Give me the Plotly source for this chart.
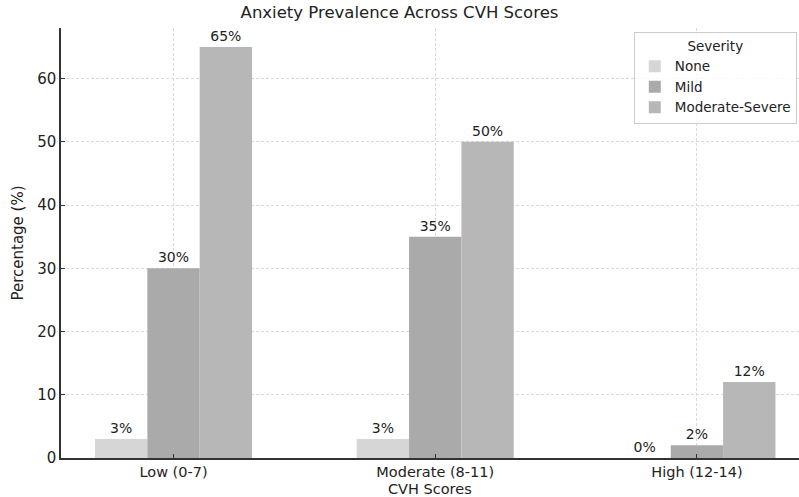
import plotly.graph_objects as go

categories = ["Low (0-7)", "Moderate (8-11)", "High (12-14)"]
severity = ["None", "Mild", "Moderate-Severe"]
none_vals = [3, 3, 0]
mild_vals = [30, 35, 2]
modsev_vals = [65, 50, 12]
colors = ["#d6d6d6", "#aaaaaa", "#b7b7b7"]

fig = go.Figure()
for name, vals, col in zip(severity, [none_vals, mild_vals, modsev_vals], colors):
    fig.add_trace(go.Bar(
        x=categories, y=vals, name=name, marker_color=col,
        marker_line_width=0,
        text=[f"{v}%" for v in vals], textposition="outside",
        textfont=dict(size=14, color="#222222"), cliponaxis=False,
    ))

fig.update_layout(
    width=799, height=497,
    margin=dict(l=61, r=0, t=28, b=39, autoexpand=False),
    barmode="group", bargap=0.4, bargroupgap=0,
    plot_bgcolor="white", paper_bgcolor="white",
    font=dict(family="DejaVu Sans", size=14, color="#222222"),
    title=dict(text="Anxiety Prevalence Across CVH Scores", x=0.5, xanchor="center",
               y=0.975, yanchor="middle", font=dict(size=16.5)),
    legend=dict(title=dict(text="Severity", side="top center", font=dict(size=13.5)),
                x=0.997, xanchor="right", y=0.99, yanchor="top",
                bordercolor="#cccccc", borderwidth=1, bgcolor="rgba(255,255,255,0.8)",
                font=dict(size=13.5), tracegroupgap=0, itemwidth=30),
    showlegend=True,
    annotations=[dict(text="CVH Scores", xref="paper", yref="paper", x=0.5, y=-0.073,
                      xanchor="center", yanchor="middle", showarrow=False,
                      font=dict(size=14.5))],
)
fig.update_xaxes(
    range=[-0.43, 2.39], showline=True, linecolor="#333333", linewidth=1.5,
    showgrid=True, gridcolor="#d9d9d9", griddash="3px,2px", gridwidth=0.8,
    ticks="inside", ticklen=4, tickcolor="#333333", tickfont=dict(size=14.5),
    automargin=False,
)
fig.update_yaxes(
    range=[0, 68], showline=True, linecolor="#333333", linewidth=1.5,
    showgrid=True, gridcolor="#d9d9d9", griddash="3px,2px", gridwidth=0.8,
    tickvals=[0, 10, 20, 30, 40, 50, 60], ticks="inside", ticklen=4, tickcolor="#333333",
    tickfont=dict(size=15), zeroline=False, automargin=False,
    title=dict(text="Percentage (%)", standoff=10, font=dict(size=15)),
)
fig.write_html("out.html", post_script="document.body.style.margin='0';",
               config={"displayModeBar": False})
